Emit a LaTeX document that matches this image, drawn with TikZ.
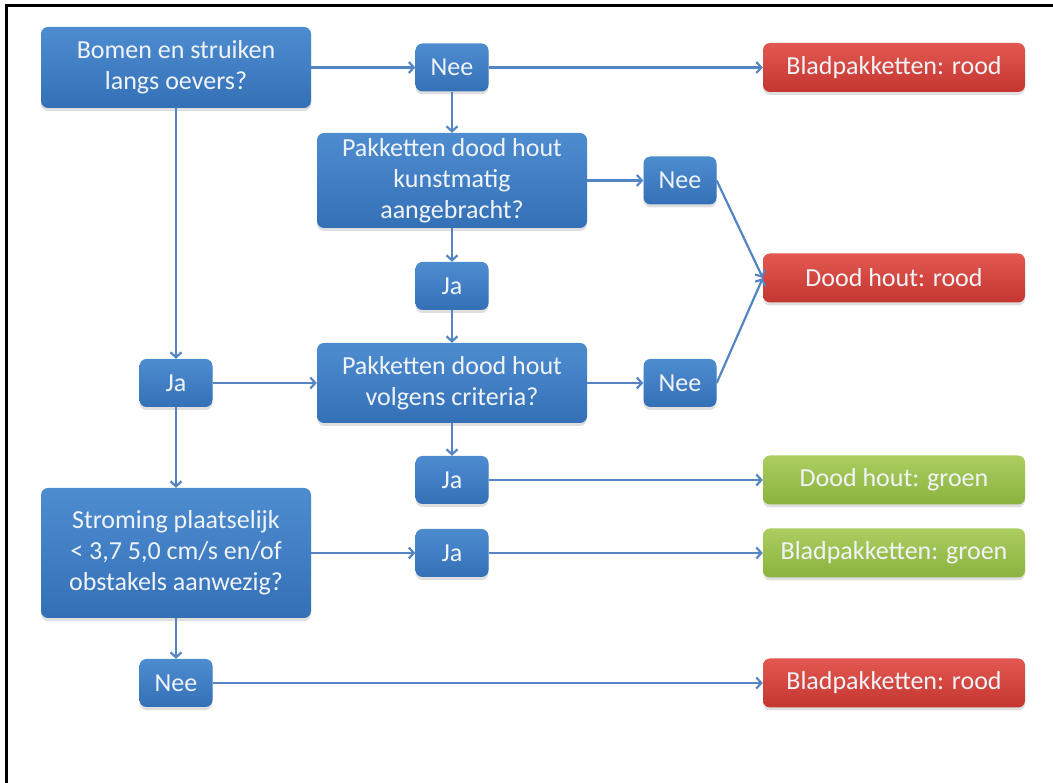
\documentclass[tikz,border=0pt]{standalone}
\usepackage{fontspec}
\setmainfont{Carlito}
\usepackage{tikz}
\usetikzlibrary{arrows.meta,shadows}

\definecolor{blauwtop}{RGB}{78,140,208}
\definecolor{blauwbodem}{RGB}{52,112,182}
\definecolor{roodtop}{RGB}{226,88,80}
\definecolor{roodbodem}{RGB}{196,54,48}
\definecolor{groentop}{RGB}{172,206,96}
\definecolor{groenbodem}{RGB}{138,178,62}
\definecolor{lijn}{RGB}{84,132,194}
\definecolor{tekst}{RGB}{240,244,248}

\begin{document}
\begin{tikzpicture}[x=1pt,y=1pt,
		box/.style={rounded corners=7pt, inner sep=0pt, align=center, text=tekst,
			font=\fontsize{26}{31}\selectfont, minimum height=48pt,
			drop shadow={opacity=0.25, shadow xshift=0pt, shadow yshift=-3pt}},
		vraag/.style={box, top color=blauwtop, bottom color=blauwbodem, minimum width=270pt},
		antw/.style={box, top color=blauwtop, bottom color=blauwbodem, minimum width=73pt},
		roodbox/.style={box, top color=roodtop, bottom color=roodbodem, minimum width=262pt, minimum height=49pt},
		groenbox/.style={box, top color=groentop, bottom color=groenbodem, minimum width=262pt, minimum height=49pt},
		pijl/.style={draw=lijn, line width=2.2pt, -{Straight Barb[length=5pt,width=11pt]}}]
			\useasboundingbox (0,0) rectangle (1053,783);
			\draw[line width=2.5pt] (6.7,0) -- (6.7,777.5) -- (1053,777.5);

			\node[vraag, minimum height=81pt] (bomen) at (176,715.5) {Bomen en struiken\\langs oevers?};
			\node[antw] (nee1) at (452,715.5) {Nee};
			\node[roodbox] (blad1) at (894,715.5) {Bladpakketten: rood};

			\node[vraag, minimum height=95pt] (kunst) at (452,602.5) {Pakketten dood hout\\kunstmatig\\aangebracht?};
			\node[antw] (nee2) at (680,602.5) {Nee};
			\node[antw] (ja1) at (452,497) {Ja};
			\node[roodbox] (hout1) at (894,505) {Dood hout: rood};

			\node[antw] (ja2) at (176,400) {Ja};
			\node[vraag, minimum height=80pt] (crit) at (452,400) {Pakketten dood hout\\volgens criteria?};
			\node[antw] (nee3) at (680,400) {Nee};

			\node[antw] (ja3) at (452,303) {Ja};
			\node[groenbox] (hout2) at (894,303) {Dood hout: groen};

			\node[vraag, minimum height=130pt] (strom) at (176,230) {Stroming plaatselijk\\< 3,7 5,0 cm/s en/of\\obstakels aanwezig?};
			\node[antw] (ja4) at (452,230) {Ja};
			\node[groenbox] (blad2) at (894,230) {Bladpakketten: groen};

			\node[antw] (nee4) at (176,100) {Nee};
			\node[roodbox] (blad3) at (894,100) {Bladpakketten: rood};

			\draw[pijl] (bomen) -- (nee1);
			\draw[pijl] (nee1) -- (blad1);
			\draw[pijl] (nee1) -- (kunst);
			\draw[pijl] (bomen) -- (ja2);
			\draw[pijl] (kunst) -- (nee2);
			\draw[pijl] (kunst) -- (ja1);
			\draw[pijl] (ja1) -- (crit);
			\draw[pijl] (nee2.east) -- (hout1.west);
			\draw[pijl] (nee3.east) -- (hout1.west);
			\draw[pijl] (ja2) -- (crit);
			\draw[pijl] (crit) -- (nee3);
			\draw[pijl] (crit) -- (ja3);
			\draw[pijl] (ja3) -- (hout2);
			\draw[pijl] (ja2) -- (strom);
			\draw[pijl] (strom) -- (ja4);
			\draw[pijl] (ja4) -- (blad2);
			\draw[pijl] (strom) -- (nee4);
			\draw[pijl] (nee4) -- (blad3);
		\end{tikzpicture}
\end{document}
